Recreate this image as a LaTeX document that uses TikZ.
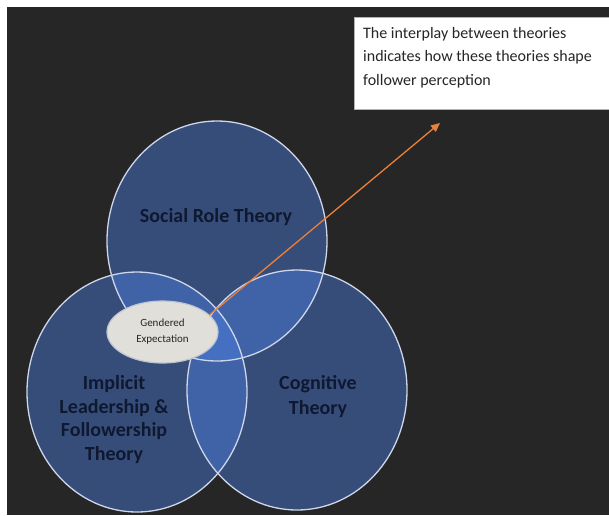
\documentclass[tikz,border=0pt]{standalone}
\usepackage{fontspec}
\setmainfont{Carlito}
\usetikzlibrary{shapes.geometric,arrows.meta}

\definecolor{pagebg}{RGB}{38,38,38}
\definecolor{setblue}{RGB}{76,126,224}
\definecolor{setrim}{RGB}{205,214,234}
\definecolor{setink}{RGB}{14,24,48}
\definecolor{chipfill}{RGB}{224,223,218}
\definecolor{chiprim}{RGB}{190,196,208}
\definecolor{pointer}{RGB}{237,128,56}

\tikzset{
  setfill/.style={ellipse, minimum width=220pt, minimum height=240pt, inner sep=0pt,
    fill=setblue, fill opacity=0.45, draw=none},
  setrimline/.style={draw=setrim, line width=1.3pt, fill=none},
  setlabel/.style={font=\fontsize{20}{24}\selectfont\bfseries, text=setink, align=center},
  chip/.style={ellipse, minimum width=111pt, minimum height=62pt, inner sep=0pt,
    fill=chipfill, draw=chiprim, line width=1.2pt,
    font=\fontsize{11}{16}\selectfont, text=black!85, align=center},
  infobox/.style={rectangle, fill=white, draw=gray!60, line width=0.6pt, inner sep=0pt},
  infotext/.style={font=\fontsize{16}{23.5}\selectfont, text=black!85, align=left, inner sep=0pt},
  pointerline/.style={draw=pointer, line width=1.3pt, -{Triangle[length=9pt,width=8pt]}}
}

\begin{document}
\begin{tikzpicture}[x=1pt, y=-1pt]
  % page with a thin white margin on the top and left
  \useasboundingbox (0,0) rectangle (609,515);
  \fill[white] (0,0) rectangle (609,515);
  \fill[pagebg] (7,7) rectangle (609,515);

  % the three theory sets, translucent so overlaps appear lighter
  \node[setfill] (social)    at (217,241) {};
  \node[setfill] (implicit)  at (137,392) {};
  \node[setfill] (cognitive) at (297,390) {};

  % set outlines on top of all fills
  \draw[setrimline] (social.center) ellipse [x radius=110pt, y radius=120pt];
  \draw[setrimline] (implicit.center) ellipse [x radius=110pt, y radius=120pt];
  \draw[setrimline] (cognitive.center) ellipse [x radius=110pt, y radius=120pt];

  % set labels
  \node[setlabel] (socialtxt) at (216,217) {Social Role Theory};
  \node[setlabel, font=\fontsize{20}{23.7}\selectfont\bfseries] (implicittxt) at (114,419.5)
    {Implicit\\Leadership \&\\Followership\\Theory};
  \node[setlabel, font=\fontsize{20}{25}\selectfont\bfseries] (cognitivetxt) at (318,396.5)
    {Cognitive\\Theory};

  % shared element in the overlap
  \node[chip] (gend) at (162.5,332) {Gendered\\Expectation};

  % explanatory note
  \node[infobox, anchor=north west, minimum width=262pt, minimum height=92pt] (note) at (354,17) {};
  \node[infotext, anchor=north west] (notetxt) at (363,27)
    {The interplay between theories\\indicates how these theories shape\\follower perception};

  % pointer from the shared element towards the note
  \coordinate (tip) at (440,123);
  \draw[pointerline] (gend.20) -- (tip);
\end{tikzpicture}
\end{document}
